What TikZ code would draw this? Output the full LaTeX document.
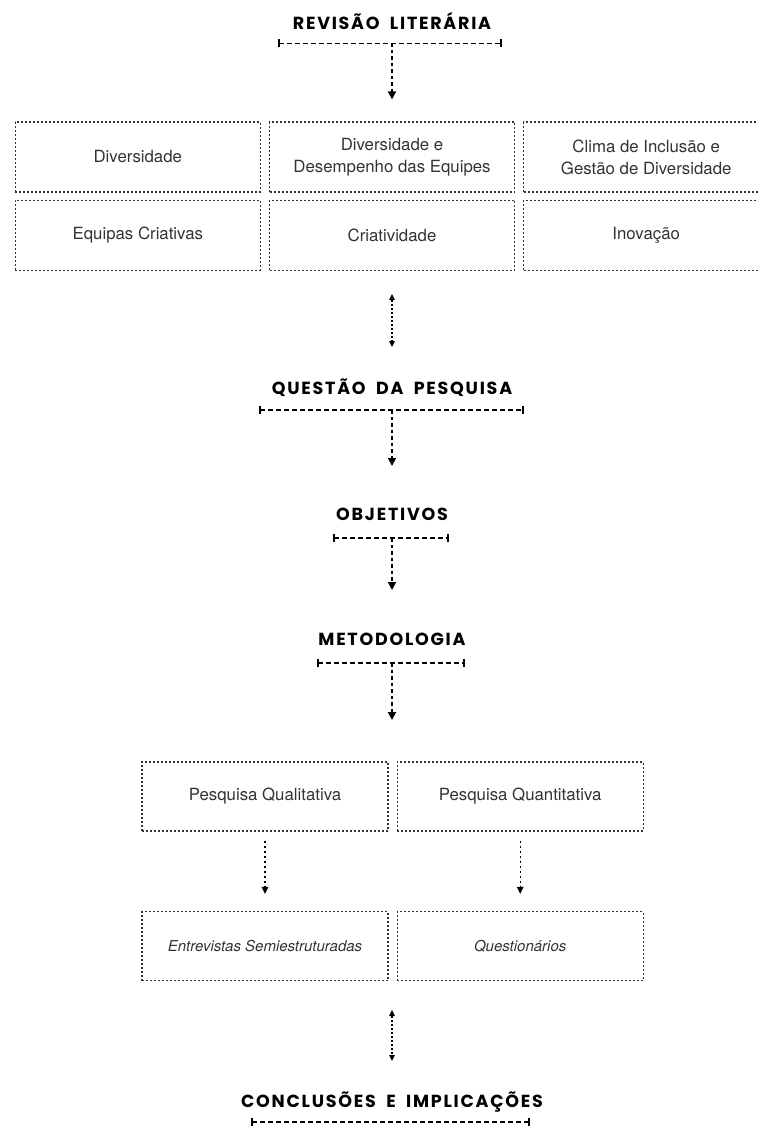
\documentclass[tikz,border=0pt]{standalone}
\usepackage{fontspec}
\setmainfont{TeX Gyre Heros}
\newfontfamily\headfont[LetterSpace=10,WordSpace=1.9]{Poppins}
\usepackage{tikz}
\usetikzlibrary{arrows.meta,positioning,calc}
\tikzset{
  rq heading/.style={
    font=\headfont\bfseries\fontsize{17.5}{20}\selectfont,
    inner sep=0pt,
    text=black,
  },
  rq box/.style={
    rectangle,
    minimum width=245pt,
    minimum height=70pt,
    draw=black!80,
    line width=1.2pt,
    dash pattern=on 2pt off 2pt,
    font=\fontsize{16.8}{22}\selectfont,
    text=black!80,
    align=center,
    inner sep=0pt,
  },
  rq method/.style={rq box, minimum width=246pt, minimum height=69pt},
  rq tool/.style={rq method, font=\itshape\fontsize{15}{19}\selectfont},
  rq bracket/.style={{Bar[width=8pt,line width=1.6pt]}-{Bar[width=8pt,line width=1.6pt]}, line width=1.6pt, dash pattern=on 4.5pt off 3.5pt},
  rq arrow/.style={-{Triangle[length=8pt,width=8pt]}, line width=1.8pt, dash pattern=on 3.5pt off 3pt},
  rq step/.style={-{Triangle[length=7pt,width=6.5pt]}, line width=1.3pt, dash pattern=on 2.5pt off 2.5pt},
  rq link/.style={{Triangle[length=6pt,width=5.5pt]}-{Triangle[length=6pt,width=5.5pt]}, line width=1.2pt, dash pattern=on 2pt off 2pt},
}

\begin{document}
\begin{tikzpicture}[x=1pt,y=-1pt,node distance=7pt and 8pt]
  \useasboundingbox (0,0) rectangle (757,1126);

  % literature review
  \node[rq heading] (rev) at (392,21.5) {REVISÃO LITERÁRIA};
  \coordinate (rev l) at ($(rev)+(-114,22)$);
  \coordinate (rev r) at ($(rev)+(110,22)$);
  \coordinate (rev m) at ($(rev)+(0,22)$);

  \node[rq box] (dde) at (392,157) {Diversidade e\\Desempenho das Equipes};
  \node[rq box,left=of dde] (div) {Diversidade};
  \node[rq box,right=of dde] (cli) {Clima de Inclusão e\\Gestão de Diversidade};
  \node[rq box,below=of dde] (cri) {Criatividade};
  \node[rq box,below=of div] (eqc) {Equipas Criativas};
  \node[rq box,below=of cli] (ino) {Inovação};
  \coordinate (rev in) at ([yshift=22pt]dde.north);

  % research question
  \node[rq heading] (que) at (392,388) {QUESTÃO DA PESQUISA};
  \coordinate (que l) at ($(que)+(-133,22)$);
  \coordinate (que r) at ($(que)+(132,22)$);
  \coordinate (que m) at ($(que)+(0,22)$);
  \coordinate (que top) at ($(que)+(0,-94)$);
  \coordinate (que up) at ($(que)+(0,-41)$);

  % objectives
  \node[rq heading] (obj) at (392,514) {OBJETIVOS};
  \coordinate (obj l) at ($(obj)+(-59,24)$);
  \coordinate (obj r) at ($(obj)+(57,24)$);
  \coordinate (obj m) at ($(obj)+(0,24)$);
  \coordinate (que in) at ($(obj)+(0,-48)$);

  % methodology
  \node[rq heading] (met) at (392,639) {METODOLOGIA};
  \coordinate (met l) at ($(met)+(-75,24)$);
  \coordinate (met r) at ($(met)+(73,24)$);
  \coordinate (met m) at ($(met)+(0,24)$);
  \coordinate (obj in) at ($(met)+(0,-49)$);

  \node[rq method] (qual) at (265,796.5) {Pesquisa Qualitativa};
  \node[rq method,right=of qual] (quan) {Pesquisa Quantitativa};
  \node[rq tool] (ent) at (265,946) {Entrevistas Semiestruturadas};
  \node[rq tool,right=of ent] (qst) {Questionários};
  \coordinate (met in) at ($(met)+(0,81)$);

  % conclusions
  \node[rq heading] (con) at (392,1102) {CONCLUSÕES E IMPLICAÇÕES};
  \coordinate (con l) at ($(con)+(-141,20)$);
  \coordinate (con r) at ($(con)+(138,20)$);
  \coordinate (con top) at ($(con)+(0,-92)$);
  \coordinate (con up) at ($(con)+(0,-41)$);

  \draw[rq bracket] (rev l) -- (rev r);
  \draw[rq arrow] (rev m) -- (rev in);

  \draw[rq link] (que top) -- (que up);
  \draw[rq bracket] (que l) -- (que r);
  \draw[rq arrow] (que m) -- (que in);

  \draw[rq bracket] (obj l) -- (obj r);
  \draw[rq arrow] (obj m) -- (obj in);

  \draw[rq bracket] (met l) -- (met r);
  \draw[rq arrow] (met m) -- (met in);

  \draw[rq step] ([yshift=-9pt]qual.south) -- ([yshift=17pt]ent.north);
  \draw[rq step] ([yshift=-9pt]quan.south) -- ([yshift=17pt]qst.north);

  \draw[rq link] (con top) -- (con up);
  \draw[rq bracket] (con l) -- (con r);
\end{tikzpicture}
\end{document}
